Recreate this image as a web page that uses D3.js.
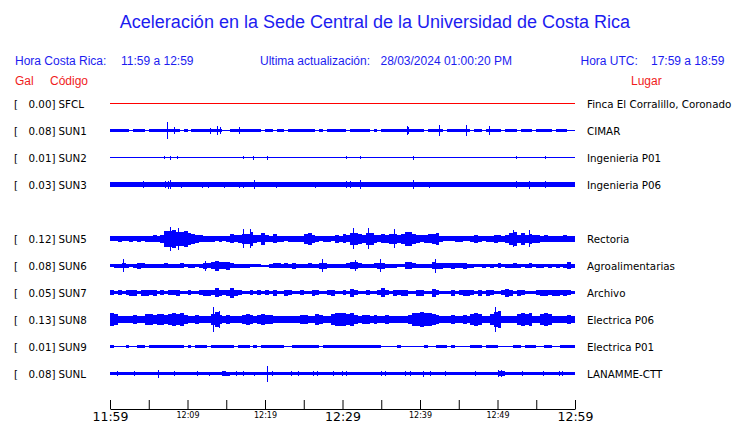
<!DOCTYPE html>
<html>
<head>
<meta charset="utf-8">
<script src="https://cdn.jsdelivr.net/npm/d3@7"></script>
<style>
  body { margin: 0; background: #fff; }
  svg { display: block; }
</style>
</head>
<body>
<div class="chart"></div>
<script>
// stations, top to bottom (slot 4 = SUN4 is empty)
const codes = ["SFCL", "SUN1", "SUN2", "SUN3", "SUN5", "SUN6", "SUN7", "SUN8", "SUN9", "SUNL"];
const slots = [0, 1, 2, 3, 5, 6, 7, 8, 9, 10];
const gal = [0.00, 0.08, 0.01, 0.03, 0.12, 0.08, 0.05, 0.13, 0.01, 0.08];
const places = ["Finca El Corralillo, Coronado", "CIMAR", "Ingenieria P01", "Ingenieria P06",
  "Rectoria", "Agroalimentarias", "Archivo", "Electrica P06", "Electrica P01", "LANAMME-CTT"];

// envelope half-amplitude, one value per 30 s from 11:59 to 12:59 (empty = flat trace)
const envSFCL = [];
const envSUN1 = [
  1.2,1.2,1.2,1.2,1.2,0,1.2,1.2,1.2,0, 1.2,1.2,1.2,1.2,1.2,1.2,1.2,1.2,0,1.2,
  0,1.2,1.2,1.2,1.2,1.2,1.2,1.2,1.2,0, 0,1.2,1.2,1.2,1.2,1.2,1.2,1.2,1.2,0,
  1.2,1.2,0,1.2,1.2,0,1.2,1.2,1.2,1.2, 1.2,1.2,1.2,0,1.2,0,1.2,1.2,1.2,1.2,
  1.2,0,1.2,1.2,1.2,1.2,1.2,0,1.2,0, 1.2,1.2,1.2,1.2,1.2,1.2,1.2,1.2,1.2,1.2,
  1.2,0,1.2,1.2,1.2,1.2,0,1.2,1.2,1.2, 1.2,1.2,1.2,0,1.2,1.2,0,1.2,1.2,1.2,
  1.2,0,1.2,1.2,1.2,0,1.2,1.2,1.2,0, 1.2,1.2,1.2,1.2,0,1.2,1.2,1.2,0,0];
const envSUN2 = [];
const envSUN3 = [
  1.8,1.8,1.8,1.8,1.8,1.8,1.8,1.8,1.8,1.8, 1.8,1.8,1.8,1.8,2.3,2.3,1.8,1.8,1.8,1.8,
  1.8,1.8,1.8,1.8,1.8,1.8,1.8,1.8,1.8,1.8, 1.8,1.8,1.8,1.8,1.8,1.8,1.8,1.8,1.8,1.8,
  1.8,1.8,1.8,1.8,1.8,1.8,1.8,1.8,1.8,1.8, 1.8,1.8,1.8,1.8,1.8,1.8,1.8,1.8,1.8,1.8,
  2.1,2.3,1.8,1.8,2.3,1.8,1.8,1.8,1.8,1.8, 1.8,1.8,1.8,1.8,1.8,1.8,1.8,1.8,2.3,1.8,
  1.8,1.8,1.8,1.8,1.8,1.8,1.8,1.8,1.8,1.8, 1.8,1.8,1.8,1.8,1.8,1.8,1.8,1.8,1.8,1.8,
  1.8,1.8,1.8,1.8,2.1,1.8,1.8,1.8,2.1,1.8, 1.8,1.8,1.8,1.8,1.8,1.8,1.8,1.8,1.8,1.8];
const envSUN5 = [
  2,2,2.5,2,2,2.5,2,2.5,2,2.5, 2.5,3,2.5,3.5,7.5,7.5,8.5,6.5,6.5,7.5,
  5.5,4.5,3.5,3,2.5,2.5,2.5,2,2.5,2, 2.5,4,3,3.5,4.5,4.5,6.5,3.5,3,5.5,
  3,2.5,4,2.5,2.5,2,2.5,2.5,2.5,2.5, 4.5,5.5,3.5,2.5,2,2.5,2.5,2,3.5,2.5,
  4,3,5.5,5.5,4.5,3.5,5.5,5.5,3.5,3, 4,3.5,4.5,4.5,3.5,4.5,6.5,6.5,4.5,3.5,
  3,3.5,4,4.5,5.5,2.5,2,2,2,2.5, 2.5,2,2,2.5,3.5,2.5,2,2.5,2.5,3.5,
  3,2.5,3.5,5.5,6.5,3.5,5.5,3.5,4.5,3.5, 3.5,2.5,3,2.5,2.5,2.5,2.5,3,2.5,2.5];
const envSUN6 = [
  1.2,1.5,1.5,2,1.5,1.2,1.5,2.5,2,1.5, 1.5,1.5,1.5,1.5,2,1.5,1.5,1.5,2,1.2,
  1.5,1.5,1.2,1.5,2.5,2,3,4.5,3,3, 3.5,2,1.5,1.5,1.5,1.5,1.2,1.2,1.2,0.5,
  0.5,1.5,2,2,1.5,2,1.5,2.5,1.5,1.5, 1.5,2,1.5,1.5,2.5,2.5,1.5,1.5,1.5,1.5,
  1.5,2,3,3,2,1.5,1.5,1.5,2,2.5, 2.5,1.5,1.5,1.5,1.2,1.2,3,3,2,1.5,
  1.5,1.5,1.5,3,2.5,2.5,2,2,2.5,2, 2,2.5,1.5,1.5,1.2,1.2,1.5,1.2,1.5,1.2,
  2,1.2,1.5,1.5,2,1.5,1.2,1.5,2,1.2, 1.5,1.5,1.2,1.5,1.2,1.5,1.2,1.5,3,1.5];
const envSUN7 = [
  2,1.3,2,1.3,2,2.5,2.5,1.3,2.5,2.5, 2,2.5,1.3,2,1.3,2,2,2.5,1.3,1.3,
  2,1.3,1.3,2,2.5,2.5,2,4,2.5,2, 2.5,4.5,2.5,2,1.3,1.3,2,1.3,2,1.3,
  2,1.3,2.5,1.3,1.3,2.5,2,1.3,1.3,2, 1.3,1.3,2.5,2,1.3,1.3,2,2.5,1.3,1.3,
  2,1.3,3.5,2,1.3,1.3,2,1.3,1.3,2, 4,2,1.3,2.5,2,2.5,2.5,1.3,1.3,2.5,
  2.5,1.3,1.3,3.5,2,1.3,1.3,1.3,2.5,1.3, 2,2.5,2.5,2,1.3,2.5,1.3,2.5,2,1.3,
  1.3,2,3.5,2.5,1.3,2.5,2,1.3,1.3,1.3, 2,2.5,2.5,2,2.5,2.5,2,2.5,2,1.3];
const envSUN8 = [
  6.2,5.2,3.2,2.7,2.7,3.2,4.2,3.2,3.2,5.2, 5.2,4.2,5.2,5.2,4.2,5.2,6.2,5.2,6.2,4.2,
  3.2,3.2,4.2,3.2,3.2,2.7,5.2,7.2,4.2,3.2, 4.2,3.2,2.7,3.2,4.2,4.7,4.2,3.2,4.2,5.2,
  4.2,4.2,3.2,2.7,3.2,2.7,3.2,2.7,3.2,4.2, 4.2,3.2,3.2,5.2,4.2,2.7,3.2,5.2,6.2,6.2,
  6.2,5.2,6.2,4.2,3.2,4.2,4.2,3.2,4.2,3.2, 2.7,4.2,3.2,2.7,3.2,2.7,3.2,4.2,6.2,6.2,
  7.2,6.2,6.2,5.2,4.2,3.2,3.2,3.2,4.2,3.2, 3.2,3.7,3.2,5.2,6.2,5.2,3.2,2.7,5.2,7.2,
  8.2,3.2,2.7,3.2,3.2,5.2,6.2,5.2,6.2,3.2, 2.7,5.2,6.2,5.2,3.2,2.7,2.7,3.2,3.7,3.2];
const envSUN9 = [
  0.8,0.4,0.4,0.4,0.8,0.4,0.4,0.8,0.8,0.4, 0.8,0.8,0.8,0.8,0.8,0.8,0.8,0.8,0.8,0.4,
  0.8,0.4,0.8,0.8,0.8,0.4,0.8,0.8,0.8,0.8, 0.8,0.8,0.4,0.8,0.8,0.8,0.4,0.8,0.4,0.8,
  0.8,0.8,0.8,0.8,0.8,0.4,0.4,0.8,0.8,0.8, 0.8,0.8,0.8,0.8,0.4,0.8,0.8,0.8,0.8,0.8,
  0.8,0.8,0.8,0.8,0.8,0.8,0.8,0.8,0.8,0.8, 0.4,0,0,0,0.8,0,0,0.4,0,0,
  0.4,0.8,0,0,0.8,0.8,0.8,0,0.8,0.4, 0,0,0.4,0.8,0.8,0.8,0,0.8,0.8,0.8,
  0,0,0.4,0,0.8,0.8,0,0.8,0.8,0.8, 0,0.4,0.8,0.8,0.4,0,0.8,0.8,0.8,0.8];
const envSUNL = [
  1.2,1.2,1.2,1.2,1.2,1.2,1.2,1.2,1.2,1.2, 1.2,1.2,1.2,1.2,1.2,1.2,1.2,1.2,1.2,1.2,
  1.2,1.2,1.2,1.2,1.2,1.2,1.2,1.2,1.2,2.2, 1.5,1.2,1.2,1.2,1.2,1.2,1.2,1.2,1.2,1.2,
  1.2,1.2,1.2,1.2,1.2,1.2,1.2,1.2,1.2,1.2, 1.2,1.2,1.2,1.2,1.2,1.2,1.2,1.2,1.2,1.2,
  1.2,1.2,1.2,1.2,1.2,1.2,1.2,1.2,1.2,1.2, 1.2,1.2,1.2,1.2,1.2,1.2,1.2,1.2,1.2,1.2,
  1.2,1.2,1.2,1.2,1.2,1.2,1.2,1.2,1.2,1.2, 1.2,1.2,1.2,1.2,1.2,1.2,1.2,1.2,1.2,1.2,
  2,1.8,1.2,1.2,1.2,1.2,1.2,1.2,1.2,1.2, 1.2,1.2,1.2,1.2,1.2,1.2,1.2,1.2,1.2,1.2];

// narrow peaks: [minutes after 11:59, half-amplitude]
const spikesSFCL = [];
const spikesSUN1 = [[7.4, 8], [8.26, 3], [12.9, 2.5], [13.8, 4], [14.2, 3], [16.7, 3],
  [38.3, 4], [38.5, 3], [42.4, 5], [45.9, 5], [48.9, 4]];
const spikesSUN2 = [[7.0, 1], [7.74, 1.5], [8.69, 1], [17.2, 1], [18.5, 1.5], [20.2, 1.5],
  [30.5, 1], [32.2, 1], [39.1, 1.5], [52.4, 1], [56.1, 1]];
const spikesSUN3 = [[4.3, 3], [7.1, 3], [7.5, 3.5], [7.74, 4], [9.16, 2.5], [11.9, 2.5],
  [12.6, 2.5], [14.75, 2.5], [16.7, 2.5], [17.2, 2.5], [18.6, 4], [21.4, 2.5], [26.4, 2.5],
  [30.4, 3], [30.97, 3], [32.3, 4], [39.1, 4], [41.1, 2.5], [52.4, 3], [54.1, 3.5], [56.1, 3]];
const spikesSUN5 = [[7.74, 11.5], [8.8, 10.5], [17.2, 9], [18.1, 9], [31.4, 10], [33.3, 10],
  [36.6, 9], [52.0, 8], [54.0, 8]];
const spikesSUN6 = [[1.63, 6], [12.26, 4.5], [27.3, 6], [31.6, 5], [34.8, 6], [41.9, 6.5], [59.3, 3]];
const spikesSUN7 = [];
const spikesSUN8 = [[13.3, 12], [14.0, 8], [49.7, 12]];
const spikesSUN9 = [];
const spikesSUNL = [[0.86, 2], [3.14, 2], [6.24, 3.5], [8.26, 2], [11.18, 2], [12.8, 1.5],
  [16.3, 2], [17.2, 2], [18.6, 1.5], [20.2, 7.5], [20.9, 2], [23.4, 2], [24.3, 2], [26.2, 2],
  [26.7, 2], [28.8, 2], [29.9, 2], [30.5, 2], [35.0, 2], [35.5, 2], [38.1, 2], [38.7, 2],
  [40.4, 2.5], [41.3, 2], [43.2, 2], [47.1, 2], [50.1, 3], [50.5, 3], [53.1, 2], [55.9, 2],
  [57.9, 2], [58.3, 2]];

const tickMinutes = d3.range(0, 61, 5);
const majorLabels = ["11:59", "12:29", "12:59"];

const envs = [envSFCL, envSUN1, envSUN2, envSUN3, envSUN5, envSUN6, envSUN7, envSUN8, envSUN9, envSUNL];
const spikes = [spikesSFCL, spikesSUN1, spikesSUN2, spikesSUN3, spikesSUN5, spikesSUN6,
  spikesSUN7, spikesSUN8, spikesSUN9, spikesSUNL];

const width = 740, height = 423;
const svg = d3.select(".chart").append("svg").attr("width", width).attr("height", height);

const start = new Date(2024, 2, 28, 11, 59), end = new Date(2024, 2, 28, 12, 59);
const at = (m) => d3.timeSecond.offset(start, Math.round(m * 60));
const x = d3.scaleTime().domain([start, end]).range([110, 575]);
const y = d3.scaleLinear().domain([0, 10]).range([103, 373]);
const amp = d3.scaleLinear().domain([0, 10]).range([0, 10]);

const blue = "#1c1cf0", red = "#f01c1c";
const labelFont = "'Liberation Sans', Arial, sans-serif";
const traceFont = "'DejaVu Sans', sans-serif";

// title + header
svg.append("text").attr("x", 375).attr("y", 28).attr("text-anchor", "middle")
  .style("font", "18px " + labelFont).style("fill", blue)
  .text("Aceleración en la Sede Central de la Universidad de Costa Rica");

const header = [
  ["Hora Costa Rica:", 15, blue], ["11:59 a 12:59", 121, blue],
  ["Ultima actualización:", 260, blue], ["28/03/2024 01:00:20 PM", 380.5, blue],
  ["Hora UTC:", 580.5, blue], ["17:59 a 18:59", 651, blue]
];
header.forEach(([t, hx, c]) => {
  svg.append("text").attr("x", hx).attr("y", 65).style("font", "12px " + labelFont)
    .style("fill", c).text(t);
});
[["Gal", 15], ["Código", 50], ["Lugar", 631]].forEach(([t, hx]) => {
  svg.append("text").attr("x", hx).attr("y", 84.5).style("font", "12px " + labelFont)
    .style("fill", red).text(t);
});

// traces
codes.forEach((code, i) => {
  const yc = y(slots[i]);
  const color = code === "SFCL" ? "#ff0000" : "#0000ff";
  const g = svg.append("g").attr("class", "trace").attr("shape-rendering", "crispEdges");

  g.append("rect").attr("x", x(start)).attr("y", yc)
    .attr("width", x(end) - x(start)).attr("height", 1).attr("fill", color);

  g.selectAll(".bin").data(envs[i]).enter().append("rect")
    .attr("class", "bin")
    .attr("x", (d, j) => x(at(j / 2)))
    .attr("width", (d, j) => x(at((j + 1) / 2)) - x(at(j / 2)))
    .attr("y", (d) => yc - amp(d))
    .attr("height", (d) => 2 * amp(d) + 1)
    .attr("fill", color);

  g.selectAll(".spike").data(spikes[i]).enter().append("rect")
    .attr("class", "spike")
    .attr("x", (d) => Math.round(x(at(d[0]))))
    .attr("width", 1)
    .attr("y", (d) => yc - amp(d[1]))
    .attr("height", (d) => 2 * amp(d[1]) + 1)
    .attr("fill", color);

  const ty = yc + 4.5;
  svg.append("text").attr("x", 14).attr("y", ty).style("font", "10.3px " + traceFont).text("[");
  svg.append("text").attr("x", 55.5).attr("y", ty).attr("text-anchor", "end")
    .style("font", "10.3px " + traceFont).text(gal[i].toFixed(2) + "]");
  svg.append("text").attr("x", 58.5).attr("y", ty).style("font", "10.3px " + traceFont).text(code);
  svg.append("text").attr("x", 587).attr("y", ty).style("font", "10.3px " + traceFont).text(places[i]);
});

// time axis
const fmt = d3.timeFormat("%H:%M");
const xAxis = d3.axisBottom(x)
  .tickValues(tickMinutes.map((m) => d3.timeMinute.offset(start, m)))
  .tickSizeInner(-9).tickSizeOuter(0)
  .tickFormat((d, k) => (tickMinutes[k] % 10 === 0 ? fmt(d) : ""));

const axisG = svg.append("g").attr("transform", "translate(0,409)").call(xAxis);
axisG.select(".domain").attr("stroke", "#000");
axisG.selectAll(".tick line").attr("stroke", "#000");
axisG.selectAll(".tick text")
  .attr("dy", 0)
  .attr("fill", "#000")
  .attr("y", (d) => (majorLabels.includes(fmt(d)) ? 12 : 9))
  .style("font-family", traceFont)
  .style("font-size", (d) => (majorLabels.includes(fmt(d)) ? "12.5px" : "8px"));
</script>
</body>
</html>
